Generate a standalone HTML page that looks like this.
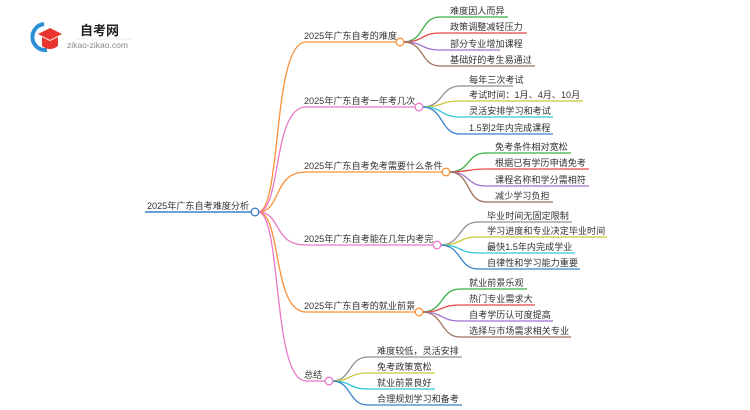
<!DOCTYPE html>
<html><head><meta charset="utf-8"><style>
html,body{margin:0;padding:0;background:#fff;}
svg{display:block;}
text{font-family:"Liberation Sans","Noto Sans CJK SC",sans-serif;font-size:9.1px;fill:#333;}
</style></head><body>
<svg width="750" height="410" viewBox="0 0 750 410" xmlns="http://www.w3.org/2000/svg">
<!-- logo -->
<path d="M44 24 A13 13 0 1 0 47 50" fill="none" stroke="#2d8fd5" stroke-width="4"/>
<path d="M38 34 L50 28 L62 34 L50 40 Z" fill="#e8352f"/>
<path d="M42 37 L42 46 Q50 52 58 46 L58 37 L50 41 Z" fill="#e8352f"/>
<text x="80" y="35" style="font-size:13px;font-weight:bold;fill:#222">自考网</text>
<line x1="76" y1="39" x2="132" y2="39" stroke="#ddd" stroke-width="0.6"/>
<text x="67" y="48" style="font-size:8.5px;fill:#888">zikao-zikao.com</text>

<!-- root -->
<text x="147" y="209">2025年广东自考难度分析</text>
<line x1="145" y1="212" x2="252" y2="212" stroke="#3a80c8" stroke-width="1.5"/>

<g fill="none" stroke-width="1.3">
<path d="M258 212 C282 212 272 42 306 42 L397 42" stroke="#f7913a"/>
<path d="M258 212 C282 212 272 107 306 107 L415 107" stroke="#e878c8"/>
<path d="M258 212 C282 212 272 172 306 172 L442 172" stroke="#f7913a"/>
<path d="M258 212 C282 212 272 245 306 245 L433 245" stroke="#e878c8"/>
<path d="M258 212 C282 212 272 312 306 312 L415 312" stroke="#f7913a"/>
<path d="M258 212 C282 212 272 381 306 381 L325 381" stroke="#e878c8"/>
</g>
<circle cx="255" cy="212" r="3.8" fill="#fff" stroke="#3a80c8" stroke-width="1.3"/>

<text x="304" y="39">2025年广东自考的难度</text>
<text x="304" y="104">2025年广东自考一年考几次</text>
<text x="304" y="169">2025年广东自考免考需要什么条件</text>
<text x="304" y="242">2025年广东自考能在几年内考完</text>
<text x="304" y="309">2025年广东自考的就业前景</text>
<text x="304" y="378">总结</text>

<g fill="none" stroke-width="1.3">
<path d="M403 42 C425 42 420 17 440 17 L508 17" stroke="#3cb044"/>
<path d="M403 42 C425 42 420 33 440 33 L527 33" stroke="#e8474c"/>
<path d="M403 42 C425 42 420 50 440 50 L500 50" stroke="#a070d0"/>
<path d="M403 42 C425 42 420 66 440 66 L535 66" stroke="#a0705a"/>
<path d="M422 107 C444 107 440 86 460 86 L513 86" stroke="#909090"/>
<path d="M422 107 C444 107 440 101 460 101 L583 101" stroke="#c8c83c"/>
<path d="M422 107 C444 107 440 117 460 117 L553 117" stroke="#30c8d8"/>
<path d="M422 107 C444 107 440 134 460 134 L553 134" stroke="#3a80c8"/>
<path d="M449 172 C471 172 466 153 486 153 L571 153" stroke="#3cb044"/>
<path d="M449 172 C471 172 466 169 486 169 L589 169" stroke="#e8474c"/>
<path d="M449 172 C471 172 466 186 486 186 L589 186" stroke="#a070d0"/>
<path d="M449 172 C471 172 466 202 486 202 L553 202" stroke="#a0705a"/>
<path d="M440 245 C462 245 458 222 478 222 L572 222" stroke="#909090"/>
<path d="M440 245 C462 245 458 237 478 237 L607 237" stroke="#c8c83c"/>
<path d="M440 245 C462 245 458 253 478 253 L575 253" stroke="#30c8d8"/>
<path d="M440 245 C462 245 458 269 478 269 L580 269" stroke="#3a80c8"/>
<path d="M422 312 C444 312 440 289 460 289 L527 289" stroke="#3cb044"/>
<path d="M422 312 C444 312 440 305 460 305 L535 305" stroke="#e8474c"/>
<path d="M422 312 C444 312 440 321 460 321 L553 321" stroke="#a070d0"/>
<path d="M422 312 C444 312 440 337 460 337 L571 337" stroke="#a0705a"/>
<path d="M332 381 C352 381 348 357 368 357 L462 357" stroke="#909090"/>
<path d="M332 381 C352 381 348 373 368 373 L435 373" stroke="#c8c83c"/>
<path d="M332 381 C352 381 348 389 368 389 L435 389" stroke="#30c8d8"/>
<path d="M332 381 C352 381 348 405 368 405 L462 405" stroke="#3a80c8"/>
</g>
<g fill="#fff" stroke-width="1.3">
<circle cx="400" cy="42" r="3.8" stroke="#f7913a"/>
<circle cx="419" cy="107" r="3.8" stroke="#e878c8"/>
<circle cx="446" cy="172" r="3.8" stroke="#f7913a"/>
<circle cx="437" cy="245" r="3.8" stroke="#e878c8"/>
<circle cx="419" cy="312" r="3.8" stroke="#f7913a"/>
<circle cx="329" cy="381" r="3.8" stroke="#e878c8"/>
</g>

<text x="450" y="14">难度因人而异</text>
<text x="450" y="30">政策调整减轻压力</text>
<text x="450" y="47">部分专业增加课程</text>
<text x="450" y="63">基础好的考生易通过</text>

<text x="469" y="83">每年三次考试</text>
<text x="469" y="98">考试时间：1月、4月、10月</text>
<text x="469" y="114">灵活安排学习和考试</text>
<text x="469" y="131">1.5到2年内完成课程</text>

<text x="495" y="150">免考条件相对宽松</text>
<text x="495" y="166">根据已有学历申请免考</text>
<text x="495" y="183">课程名称和学分需相符</text>
<text x="495" y="199">减少学习负担</text>

<text x="487" y="219">毕业时间无固定限制</text>
<text x="487" y="234">学习进度和专业决定毕业时间</text>
<text x="487" y="250">最快1.5年内完成学业</text>
<text x="487" y="266">自律性和学习能力重要</text>

<text x="469" y="286">就业前景乐观</text>
<text x="469" y="302">热门专业需求大</text>
<text x="469" y="318">自考学历认可度提高</text>
<text x="469" y="334">选择与市场需求相关专业</text>

<text x="377" y="354">难度较低，灵活安排</text>
<text x="377" y="370">免考政策宽松</text>
<text x="377" y="386">就业前景良好</text>
<text x="377" y="402">合理规划学习和备考</text>
</svg>
</body></html>
